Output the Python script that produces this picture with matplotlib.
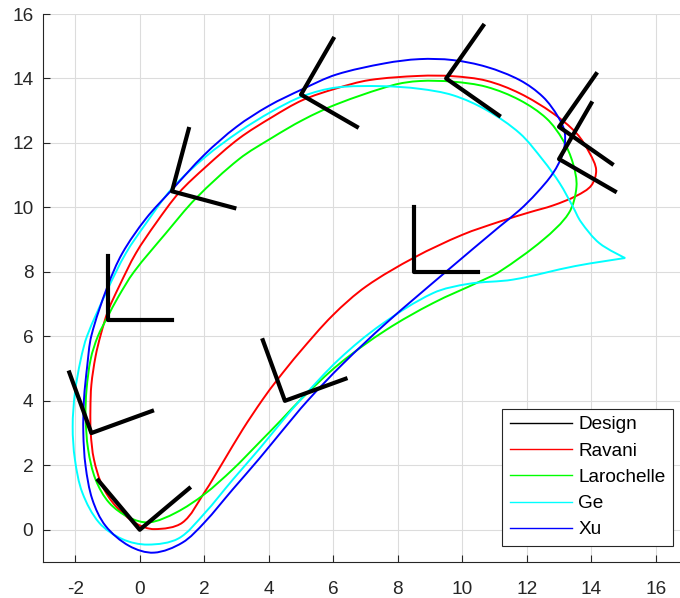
import numpy as np
import matplotlib.pyplot as plt
from matplotlib.lines import Line2D
from matplotlib.path import Path
from matplotlib.patches import PathPatch

plt.rcParams['font.family'] = ['Liberation Sans', 'DejaVu Sans']
plt.rcParams['axes.unicode_minus'] = False

# design poses: x, y, angle (deg); arm length 2
pose_x = [0, -1.5, -1, 1, 5, 9.5, 13, 13, 8.5, 4.5]
pose_y = [0, 3, 6.5, 10.5, 13.5, 14, 12.5, 11.5, 8, 4]
pose_ang = [40, 20, 0, -15, -30, -35, -35, -30, 0, 20]
arm = 2.0

ravani_x = [0.45, 1.32, 2.0, 2.57, 3.19, 3.81, 4.27, 4.95, 5.98, 7.02, 8.52, 10.0, 11.16, 12.09,
            12.81, 13.54, 14.0, 14.15, 13.95, 13.54, 12.81, 11.78, 10.75, 9.71, 8.67, 7.12,
            6.09, 5.05, 4.1, 3.08, 2.05, 1.22, 0.5, -0.12, -0.64, -0.98, -1.21, -1.37, -1.5,
            -1.53, -1.52, -1.42, -1.16, -0.75, -0.12]
ravani_y = [0.02, 0.22, 1.15, 2.08, 3.11, 4.04, 4.66, 5.5, 6.65, 7.55, 8.45, 9.15, 9.56, 9.85,
            10.06, 10.36, 10.68, 11.16, 11.68, 12.3, 12.92, 13.54, 13.93, 14.07, 14.08, 13.95,
            13.69, 13.33, 12.8, 12.14, 11.26, 10.46, 9.51, 8.58, 7.55, 6.8, 6.05, 5.38, 4.5,
            3.73, 3.0, 2.18, 1.36, 0.74, 0.2]

laro_x = [0.3, 1.12, 2.0, 2.88, 3.7, 4.4, 5.0, 6.19, 7.64, 9.09, 10.54, 11.16, 12.5, 13.3,
          13.54, 13.43, 13.12, 12.61, 11.78, 10.75, 9.71, 8.67, 7.84, 6.1, 5.05, 4.1, 3.08,
          1.74, 0.81, -0.18, -0.68, -1.0, -1.3, -1.52, -1.65, -1.68, -1.6, -1.37, -0.95, -0.33]
laro_y = [0.23, 0.53, 1.1, 1.87, 2.7, 3.42, 4.05, 5.15, 6.2, 7.03, 7.7, 8.01, 8.99, 9.82,
          10.64, 11.37, 12.09, 12.76, 13.33, 13.74, 13.9, 13.92, 13.79, 13.2, 12.71, 12.16, 11.5,
          10.28, 9.2, 8.0, 7.2, 6.6, 6.0, 5.3, 4.35, 3.52, 2.49, 1.56, 0.84, 0.38]

ge_x = [0.25, 1.2, 2.0, 2.88, 3.7, 4.4, 5.0, 6.19, 7.48, 9.09, 10.2, 11.57, 13.5, 15.05,
        14.25, 13.68, 13.43, 13.02, 12.5, 11.78, 10.75, 9.71, 8.67, 7.53, 6.1, 5.05, 4.1,
        3.08, 2.05, 1.01, 0.19, -0.43, -1.0, -1.63, -1.83, -2.01, -2.08, -2.01, -1.78, -1.26,
        -0.54]
ge_y = [-0.46, -0.27, 0.5, 1.55, 2.5, 3.35, 4.05, 5.3, 6.36, 7.34, 7.63, 7.76, 8.18, 8.43,
        8.89, 9.55, 10.02, 10.75, 11.47, 12.3, 13.02, 13.48, 13.68, 13.76, 13.72, 13.45, 12.98,
        12.35, 11.58, 10.6, 9.5, 8.58, 7.45, 6.02, 5.28, 4.25, 3.2, 2.18, 1.15, 0.22,
        -0.29]
ge_corner = [13]  # sharp tip at the right

xu_x = [0.44, 1.32, 2.0, 2.88, 3.7, 4.4, 5.2, 6.3, 7.64, 9.5, 11.16, 11.78, 12.3, 12.81,
        13.12, 13.18, 12.97, 12.5, 11.78, 10.75, 9.71, 8.67, 7.6, 6.09, 5.05, 4.0, 3.0, 2.0,
        1.0, 0.19, -0.54, -1.0, -1.5, -1.63, -1.73, -1.75, -1.68, -1.47, -1.06, -0.33]
xu_y = [-0.71, -0.4, 0.22, 1.25, 2.2, 3.05, 4.0, 5.15, 6.41, 8.01, 9.41, 9.92, 10.44, 11.06,
        11.68, 12.3, 12.81, 13.43, 13.95, 14.36, 14.57, 14.6, 14.47, 14.12, 13.67, 13.15, 12.5,
        11.63, 10.55, 9.65, 8.58, 7.55, 6.02, 5.07, 4.04, 3.01, 1.98, 0.94, 0.12, -0.5]


def closed_curve(xs, ys, corners=()):
    # smooth closed path through the points (cubic bezier segments)
    p = np.column_stack([xs, ys]).astype(float)
    n = len(p)
    tang = np.zeros_like(p)
    for i in range(n):
        if i in corners:
            continue
        a, b, c = p[i - 1], p[i], p[(i + 1) % n]
        d0 = np.hypot(*(b - a))
        d1 = np.hypot(*(c - b))
        tang[i] = (c - a) / (d0 + d1)
    verts = [p[0]]
    codes = [Path.MOVETO]
    for i in range(n):
        j = (i + 1) % n
        d = np.hypot(*(p[j] - p[i]))
        verts += [p[i] + tang[i] * d / 3, p[j] - tang[j] * d / 3, p[j]]
        codes += [Path.CURVE4] * 3
    return Path(verts, codes)


fig = plt.figure(figsize=(6.8, 5.98), dpi=100)
ax = fig.add_axes([43/680, 1 - 562/598, 1 - 43/680, (562 - 14)/598])

# design frames
for x0, y0, a in zip(pose_x, pose_y, pose_ang):
    t = np.radians(a)
    xs = [x0 + arm*np.cos(t), x0, x0 - arm*np.sin(t)]
    ys = [y0 + arm*np.sin(t), y0, y0 + arm*np.cos(t)]
    ax.plot(xs, ys, color='black', lw=3)

curves = [(ravani_x, ravani_y, (), '#ff0000'),
          (laro_x, laro_y, (), '#00ff00'),
          (ge_x, ge_y, ge_corner, '#00ffff'),
          (xu_x, xu_y, (), '#0000ff')]
for cx, cy, cc, col in curves:
    ax.add_patch(PathPatch(closed_curve(cx, cy, cc), fill=False, edgecolor=col, lw=1.4))

ax.set_xlim(-3, 16.75)
ax.set_ylim(-1, 16)
ax.set_xticks(np.arange(-2, 17, 2))
ax.set_yticks(np.arange(0, 17, 2))
ax.grid(True, color='#dcdcdc', lw=0.8)
ax.set_axisbelow(True)
for s in ['top', 'right']:
    ax.spines[s].set_visible(False)
for s in ['left', 'bottom']:
    ax.spines[s].set_color('#262626')
    ax.spines[s].set_linewidth(0.8)
ax.tick_params(direction='in', length=5, width=0.8, color='#262626',
               labelcolor='#262626', labelsize=13.7)
ax.tick_params(axis='x', pad=14)
ax.tick_params(axis='y', pad=7)

handles = [Line2D([], [], color=c, lw=1) for c in ['black', '#ff0000', '#00ff00', '#00ffff', '#0000ff']]
leg = ax.legend(handles, ['Design', 'Ravani', 'Larochelle', 'Ge', 'Xu'],
                loc='lower right', bbox_to_anchor=(0.989, 0.029), fontsize=13.7,
                fancybox=False, framealpha=1, edgecolor='#262626',
                handlelength=3.3, handletextpad=0.3, labelspacing=0.47,
                borderpad=0.4, borderaxespad=0)
leg.get_frame().set_linewidth(0.8)

fig.savefig('out.png', dpi=100)
